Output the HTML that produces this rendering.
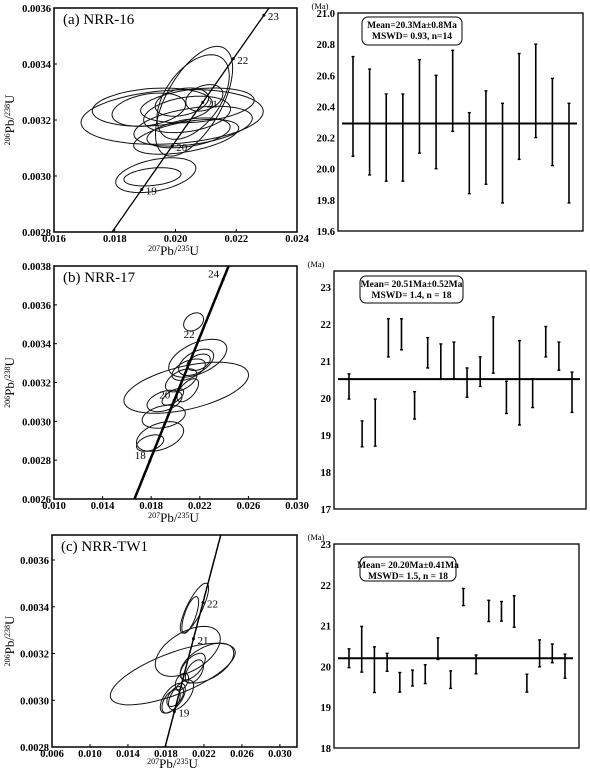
<!DOCTYPE html>
<html><head><meta charset="utf-8">
<style>
html,body{margin:0;padding:0;background:#fff;width:590px;height:775px;overflow:hidden;}
svg{display:block;font-family:"Liberation Serif",serif;overflow:hidden;}
</style></head>
<body>
<svg id="fig" width="590" height="775" viewBox="0 0 590 775" xmlns="http://www.w3.org/2000/svg"></svg>
<script>
// ---------- Panel A concordia data ----------
const aEllX=[0.02061,0.02058,0.01989,0.01924,0.02072,0.02058,0.02035,0.02043,0.02021,0.01912,0.01935,0.01924,0.02095,0.02038];
const aEllY=[0.003267,0.003282,0.003211,0.003246,0.003252,0.003178,0.003140,0.003154,0.003264,0.003237,0.003003,0.002997,0.003279,0.003220];
const aEllSX=[0.00127,0.00119,0.00300,0.00198,0.00187,0.00195,0.00173,0.00137,0.00088,0.00121,0.00132,0.00094,0.00061,0.00143];
const aEllSY=[0.000196,0.000151,0.0000978,0.0000681,0.0000622,0.0000711,0.0000622,0.0000533,0.0000504,0.0000593,0.0000622,0.0000326,0.0000474,0.0000652];
const aEllRho=[0.6,0.5,0.2,0.2,0.3,0.4,0.5,0.4,0.3,0.3,0.4,0.3,0.3,0.3];
const aAges=[19,20,21,22,23];
const aXTicks=[0.016,0.018,0.020,0.022,0.024];
const aYTicks=[0.0028,0.0030,0.0032,0.0034,0.0036];
// ---------- Panel B concordia data ----------
const bEllX=[0.02149,0.02183,0.02170,0.02190,0.02088,0.02108,0.02047,0.02101,0.01910,0.01978,0.01903,0.01873,0.01791];
const bEllY=[0.003512,0.003325,0.003304,0.003304,0.003173,0.003266,0.003211,0.003160,0.003105,0.003126,0.003024,0.002922,0.002888];
const bEllSX=[0.00082,0.00239,0.00144,0.00096,0.00513,0.00137,0.00130,0.00089,0.00144,0.00089,0.00178,0.00194,0.00112];
const bEllSY=[0.0000467,0.0000976,0.0000679,0.0000424,0.0001315,0.0000552,0.0000594,0.0000594,0.0000552,0.0000424,0.0000594,0.0000764,0.0000424];
const bEllRho=[0.3,0.5,0.5,0.4,0.5,0.5,0.5,0.6,0.4,0.6,0.3,0.4,0.4];
const bAges=[18,20,22,24];
const bXTicks=[0.010,0.014,0.018,0.022,0.026,0.030];
const bYTicks=[0.0026,0.0028,0.0030,0.0032,0.0034,0.0036,0.0038];
// ---------- Panel C concordia data ----------
const cEllX=[0.02100,0.02056,0.02030,0.01872,0.02232,0.02082,0.02100,0.01872,0.01959,0.01854,0.01968,0.01898];
const cEllY=[0.003394,0.003365,0.003209,0.003112,0.003159,0.003144,0.003123,0.003009,0.003023,0.002995,0.003080,0.003016];
const cEllSX=[0.00149,0.00088,0.00342,0.00658,0.00281,0.00132,0.00096,0.00132,0.00132,0.00096,0.00070,0.00088];
const cEllSY=[0.0001068,0.0000783,0.0001068,0.0001317,0.0000854,0.0000569,0.0000498,0.000064,0.000064,0.0000498,0.0000356,0.0000427];
const cEllRho=[0.8,0.7,0.5,0.7,0.5,0.6,0.5,0.6,0.6,0.5,0.4,0.5];
const cAges=[19,21,22];
const cXTicks=[0.006,0.010,0.014,0.018,0.022,0.026,0.030];
const cYTicks=[0.0028,0.0030,0.0032,0.0034,0.0036];
// ---------- Weighted mean age data ----------
const dLow=[20.08,19.96,19.92,19.92,20.10,20.00,20.24,19.84,19.90,19.78,20.06,20.20,20.02,19.78];
const dHigh=[20.72,20.64,20.48,20.48,20.70,20.60,20.76,20.36,20.50,20.42,20.74,20.80,20.58,20.42];
const dMean=[20.29];
const dTicks=[19.6,19.8,20.0,20.2,20.4,20.6,20.8,21.0];
const eLow=[19.97,18.68,18.70,21.11,21.30,19.43,20.81,20.52,20.52,20.02,20.31,20.67,19.58,19.27,19.74,21.11,20.75,19.61];
const eHigh=[20.65,19.38,19.97,22.14,22.14,20.17,21.63,21.46,21.51,20.81,21.11,22.19,20.45,21.55,20.52,21.93,21.51,20.70];
const eMean=[20.51];
const eTicks=[17,18,19,20,21,22,23];
const fLow=[19.97,19.86,19.36,19.88,19.37,19.52,19.58,20.17,19.46,21.49,19.82,21.10,21.11,20.96,19.37,19.99,20.09,19.71];
const fHigh=[20.43,20.98,20.48,20.32,19.85,19.91,20.04,20.70,19.89,21.91,20.28,21.62,21.59,21.73,19.81,20.65,20.55,20.30];
const fMean=[20.20];
const fTicks=[18,19,20,21,22,23];

const NS="http://www.w3.org/2000/svg";
const svg=document.getElementById('fig');
function mk(tag,attrs,parent){const e=document.createElementNS(NS,tag);for(const k in attrs)e.setAttribute(k,attrs[k]);(parent||svg).appendChild(e);return e;}
function txt(s,attrs,parent){const e=mk('text',attrs,parent);e.textContent=s;return e;}
const L238=1.55125e-10,L235=9.8485e-10;

function concordia(id,fr,xd,yd,ex,ey,sx,sy,rho,ages,xt,yt,title,labelSide,lineW,titleOff){
  const g=mk('g',{});
  
  
  const X=v=>fr.x0+(v-xd[0])/(xd[1]-xd[0])*(fr.x1-fr.x0);
  const Y=v=>fr.y1-(v-yd[0])/(yd[1]-yd[0])*(fr.y1-fr.y0);
  const cp=mk('clipPath',{id:'clip-'+id},g);
  mk('rect',{x:fr.x0,y:fr.y0,width:fr.x1-fr.x0,height:fr.y1-fr.y0},cp);
  const inner=mk('g',{'clip-path':'url(#clip-'+id+')'},g);
  for(let i=0;i<ex.length;i++){
    let d='';const r2=Math.sqrt(1-rho[i]*rho[i]);
    for(let k=0;k<=72;k++){const t=k/72*2*Math.PI;
      const px=X(ex[i]+sx[i]*Math.cos(t)),py=Y(ey[i]+sy[i]*(rho[i]*Math.cos(t)+r2*Math.sin(t)));
      d+=(k?'L':'M')+px.toFixed(1)+' '+py.toFixed(1);}
    const p=mk('path',{d:d+'Z',fill:'none',stroke:'#111','stroke-width':1},inner);
    
    
  }
  let d='';
  for(let k=0;k<=200;k++){const t=(10+k*0.1)*1e6;const xv=Math.exp(L235*t)-1,yv=Math.exp(L238*t)-1;d+=(k?'L':'M')+X(xv).toFixed(1)+' '+Y(yv).toFixed(1);}
  const cl=mk('path',{d:d,fill:'none',stroke:'#000','stroke-width':lineW},inner);
  
  
  ages.forEach(a=>{const t=a*1e6;const px=X(Math.exp(L235*t)-1),py=Y(Math.exp(L238*t)-1);
    mk('circle',{cx:px,cy:py,r:1.5,fill:'#000'},inner);
    const lb=txt(String(a),{x:labelSide>0?px+4:px-4,y:py+(labelSide>0?5:-2),'font-size':11,'text-anchor':labelSide>0?'start':'end'},g);
    
    
  });
  const fb=mk('rect',{x:fr.x0,y:fr.y0,width:fr.x1-fr.x0,height:fr.y1-fr.y0,fill:'none',stroke:'#000','stroke-width':1.5},g);
  
  
  xt.forEach(v=>{const px=X(v);mk('line',{x1:px,x2:px,y1:fr.y1,y2:fr.y1-3,stroke:'#000'},g);
    const t=txt(v.toFixed(3),{x:px,y:fr.y1+10,'font-size':10.5,'font-weight':'bold','text-anchor':'middle'},g);
    
    });
  yt.forEach(v=>{const py=Y(v);mk('line',{x1:fr.x0,x2:fr.x0+3,y1:py,y2:py,stroke:'#000'},g);
    const t=txt(v.toFixed(4),{x:fr.x0-3,y:py+4,'font-size':10.5,'font-weight':'bold','text-anchor':'end'},g);
    
    });
  const xtl=txt('',{x:(fr.x0+fr.x1)/2-2,y:fr.y1+titleOff,'font-size':13,'text-anchor':'middle'},g);
  xtl.innerHTML='<tspan font-size="8" dy="-4">207</tspan><tspan dy="4">Pb/</tspan><tspan font-size="8" dy="-4">235</tspan><tspan dy="4">U</tspan>';
  
  
  const cy=(fr.y0+fr.y1)/2;
  const ytl=txt('',{x:0,y:0,'font-size':13,'text-anchor':'middle',transform:'translate(14,'+cy+') rotate(-90)'},g);
  ytl.innerHTML='<tspan font-size="8" dy="-4">206</tspan><tspan dy="4">Pb/</tspan><tspan font-size="8" dy="-4">238</tspan><tspan dy="4">U</tspan>';
  
  
  const tt=txt(title,{x:fr.x0+9,y:fr.y0+16,'font-size':15},g);
  
  
}

function meanPlot(id,fr,yd,low,high,mean,ticks,dec,boxTxt,box){
  const g=mk('g',{});
  
  
  const Y=v=>fr.y1-(v-yd[0])/(yd[1]-yd[0])*(fr.y1-fr.y0);
  const n=low.length,x0=fr.x0+15,x1=fr.x1-14;
  const X=i=>x0+i*(x1-x0)/(n-1);
  const fb=mk('rect',{x:fr.x0,y:fr.y0,width:fr.x1-fr.x0,height:fr.y1-fr.y0,fill:'none',stroke:'#000','stroke-width':1.3},g);
  
  
  const ml=mk('line',{x1:fr.x0+4,x2:fr.x1-6,y1:Y(mean[0]),y2:Y(mean[0]),stroke:'#000','stroke-width':2},g);
  
  
  for(let i=0;i<n;i++){const px=X(i);
    const b=mk('line',{x1:px,x2:px,y1:Y(high[i]),y2:Y(low[i]),stroke:'#000','stroke-width':1.6},g);
    
    
    mk('line',{x1:px-1.5,x2:px+1.5,y1:Y(high[i]),y2:Y(high[i]),stroke:'#000','stroke-width':1.4},g);
    mk('line',{x1:px-1.5,x2:px+1.5,y1:Y(low[i]),y2:Y(low[i]),stroke:'#000','stroke-width':1.4},g);}
  ticks.forEach(v=>{const t=txt(v.toFixed(dec),{x:fr.x0-3,y:Y(v)+4,'font-size':10.5,'font-weight':'bold','text-anchor':'end'},g);
    
    });
  const u=txt('(Ma)',{x:fr.x0-18,y:fr.y0-4,'font-size':8.5,'text-anchor':'middle'},g);
  
  
  const bx=mk('rect',{x:box[0],y:box[1],width:box[2],height:box[3],rx:6,fill:'#fff',stroke:'#000','stroke-width':1},g);
  
  
  boxTxt.forEach((s,k)=>{const t=txt(s,{x:box[0]+box[2]/2,y:box[1]+11+k*11,'font-size':9.5,'font-weight':'bold','text-anchor':'middle'},g);
    
    });
}

concordia('a',{x0:54,x1:297,y0:8,y1:232},[0.016,0.024],[0.0028,0.0036],aEllX,aEllY,aEllSX,aEllSY,aEllRho,aAges,aXTicks,aYTicks,'(a)  NRR-16',1,1.3,23);
concordia('b',{x0:54,x1:297,y0:266,y1:499},[0.010,0.030],[0.0026,0.0038],bEllX,bEllY,bEllSX,bEllSY,bEllRho,bAges,bXTicks,bYTicks,'(b)  NRR-17',-1,2.5,23);
concordia('c',{x0:52,x1:297,y0:535,y1:747},[0.006,0.0318],[0.0028,0.003707],cEllX,cEllY,cEllSX,cEllSY,cEllRho,cAges,cXTicks,cYTicks,'(c)  NRR-TW1',1,1.5,21);
meanPlot('a',{x0:338,x1:583,y0:13,y1:231},[19.6,21.0],dLow,dHigh,dMean,dTicks,1,['Mean=20.3Ma\u00b10.8Ma','MSWD= 0.93, n=14'],[362,17,100,28]);
meanPlot('b',{x0:334,x1:586,y0:271,y1:509},[17,23.43],eLow,eHigh,eMean,eTicks,0,['Mean= 20.51Ma\u00b10.52Ma','MSWD= 1.4, n = 18'],[360,276,103,27]);
meanPlot('c',{x0:334,x1:579,y0:544,y1:748},[18,23],fLow,fHigh,fMean,fTicks,0,['Mean= 20.20Ma\u00b10.41Ma','MSWD= 1.5, n = 18'],[360,557,96,24]);
</script>
</body></html>
